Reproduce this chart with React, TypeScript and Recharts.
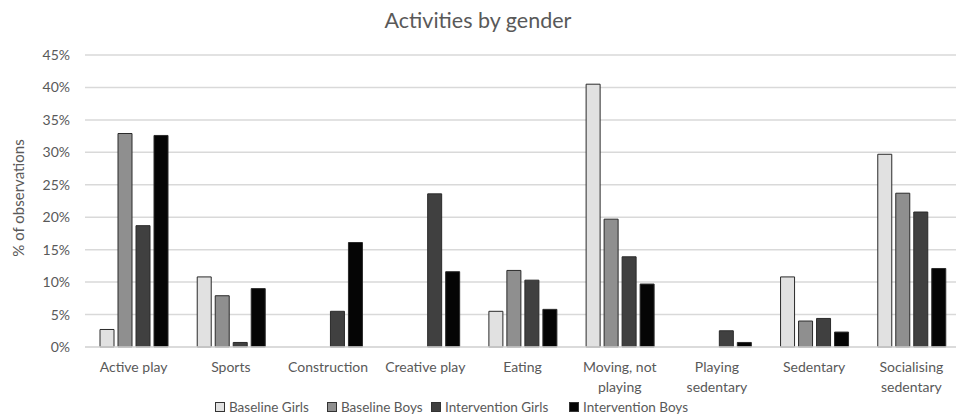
import React from "react";
import { BarChart, Bar, XAxis, YAxis, CartesianGrid } from "recharts";

const categories = [
  "Active play",
  "Sports",
  "Construction",
  "Creative play",
  "Eating",
  "Moving, not playing",
  "Playing sedentary",
  "Sedentary",
  "Socialising sedentary",
];

const baselineGirls = [2.7, 10.8, 0, 0, 5.5, 40.5, 0, 10.8, 29.7];
const baselineBoys = [32.9, 7.9, 0, 0, 11.8, 19.7, 0, 4.0, 23.7];
const interventionGirls = [18.7, 0.7, 5.5, 23.6, 10.3, 13.9, 2.5, 4.4, 20.8];
const interventionBoys = [32.6, 9.0, 16.1, 11.6, 5.8, 9.7, 0.7, 2.3, 12.1];

const yTicks = [0, 5, 10, 15, 20, 25, 30, 35, 40, 45];

const seriesList = [
  { key: "bg", name: "Baseline Girls", fill: "#e1e1e1" },
  { key: "bb", name: "Baseline Boys", fill: "#8f8f8f" },
  { key: "ig", name: "Intervention Girls", fill: "#404040" },
  { key: "ib", name: "Intervention Boys", fill: "#050505" },
];

// legend item x positions (px), matching the original layout
const legendLeft = [215, 327, 431, 569];

const data = categories.map((c, i) => ({
  cat: c,
  bg: baselineGirls[i],
  bb: baselineBoys[i],
  ig: interventionGirls[i],
  ib: interventionBoys[i],
}));

const FONT = "Lato, 'Open Sans', sans-serif";
const TXT = "#595959";

// wrap long category names onto two lines, like Excel does
const splitLabel = (s: string) => {
  if (s.length <= 14) return [s];
  const k = s.lastIndexOf(" ");
  return [s.slice(0, k), s.slice(k + 1)];
};

const CatTick = (props: any) => {
  const { x, y, payload } = props;
  const lines = splitLabel(payload.value);
  return (
    <text x={x} y={y} textAnchor="middle" fill={TXT} fontSize={14} fontFamily={FONT}>
      {lines.map((l, i) => (
        <tspan key={i} x={x} dy={i === 0 ? 17 : 20}>
          {l}
        </tspan>
      ))}
    </text>
  );
};

export default function App() {
  return (
    <div style={{ position: "absolute", left: 0, top: 0, width: 956, height: 418, overflow: "hidden", background: "#fff" }}>
      <div
        style={{
          position: "absolute",
          top: 7,
          left: 0,
          width: 956,
          textAlign: "center",
          fontFamily: FONT,
          fontSize: 21.5,
          color: TXT,
        }}
      >
        Activities by gender
      </div>
      <div
        style={{
          position: "absolute",
          left: 18,
          top: 198,
          transform: "translate(-50%, -50%) rotate(-90deg)",
          fontFamily: FONT,
          fontSize: 15,
          color: TXT,
          whiteSpace: "nowrap",
        }}
      >
        % of observations
      </div>
      <BarChart
        width={960}
        height={418}
        data={data}
        margin={{ top: 55, right: 0, bottom: 41, left: 0 }}
        barSize={14}
        barGap={4}
      >
        <CartesianGrid vertical={false} stroke="#d9d9d9" strokeWidth={1.5} />
        <XAxis
          dataKey="cat"
          height={30}
          axisLine={{ stroke: "#d9d9d9", strokeWidth: 1.5 }}
          tickLine={false}
          interval={0}
          tick={<CatTick />}
        />
        <YAxis
          width={85}
          domain={[0, 45]}
          ticks={yTicks}
          axisLine={false}
          tickLine={false}
          tickMargin={9}
          tickFormatter={(v) => `${v}%`}
          tick={{ fill: TXT, fontSize: 14, fontFamily: FONT }}
        />
        {seriesList.map((s) => (
          <Bar
            key={s.key}
            dataKey={s.key}
            name={s.name}
            fill={s.fill}
            stroke="#2a2a2a"
            strokeWidth={1}
            isAnimationActive={false}
          />
        ))}
      </BarChart>
      {seriesList.map((s, i) => (
        <div
          key={s.key}
          style={{
            position: "absolute",
            left: legendLeft[i],
            top: 399,
            display: "flex",
            alignItems: "center",
            gap: 4,
            fontFamily: FONT,
            fontSize: 13.5,
            color: TXT,
            whiteSpace: "nowrap",
          }}
        >
          <span
            style={{
              width: 8,
              height: 8,
              background: s.fill,
              border: "1px solid #333",
              display: "inline-block",
            }}
          />
          <span>{s.name}</span>
        </div>
      ))}
    </div>
  );
}
